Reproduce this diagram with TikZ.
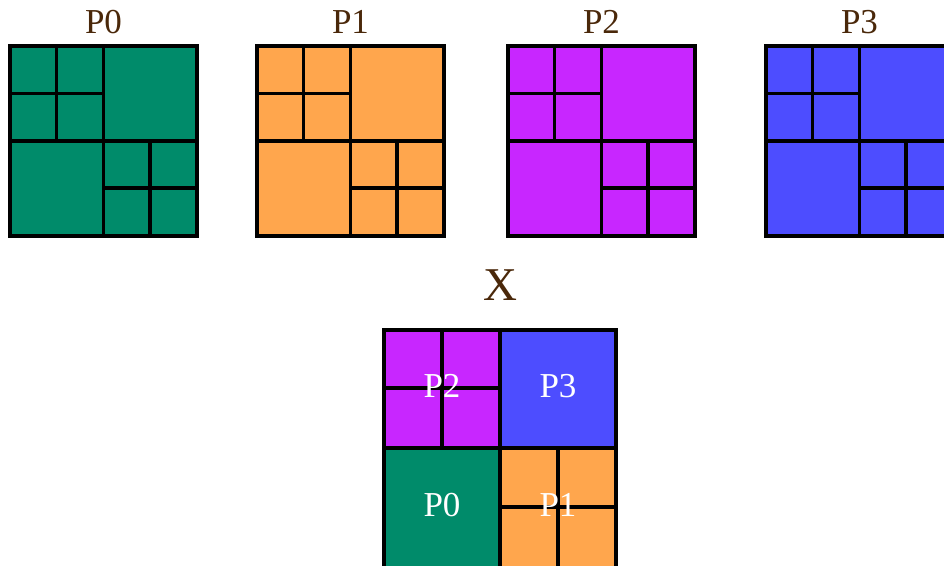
\documentclass[tikz,border=0pt]{standalone}
\usepackage{fontspec}
\setmainfont{Liberation Serif}
\definecolor{cgreen}{RGB}{0,139,106}
\definecolor{corange}{RGB}{255,166,77}
\definecolor{cpurple}{RGB}{200,38,255}
\definecolor{cblue}{RGB}{77,77,255}
\definecolor{cbrown}{RGB}{74,40,10}
\begin{document}
\begin{tikzpicture}[x=1pt,y=-1pt,
  grid/.style={line width=3.3pt,draw=black},
  title/.style={text=cbrown,font=\fontsize{35}{35}\selectfont,inner sep=0pt,anchor=base},
  inlabel/.style={text=white,font=\fontsize{35}{35}\selectfont,inner sep=0pt,anchor=base}]
\useasboundingbox (0,0) rectangle (944,565);
\clip (0,0) rectangle (944,565);
% four quadtree blocks
\foreach \x/\c/\t in {10/cgreen/P0,257/corange/P1,508/cpurple/P2,766/cblue/P3}{
  \fill[\c] (\x,46) rectangle (\x+187,236);
  \draw[grid] (\x+93.5,46) -- (\x+93.5,236);
  \draw[grid] (\x,141) -- (\x+187,141);
  \draw[grid] (\x+46.5,46) -- (\x+46.5,141);
  \draw[grid] (\x,93.5) -- (\x+93.5,93.5);
  \draw[grid] (\x+140,141) -- (\x+140,236);
  \draw[grid] (\x+93.5,188) -- (\x+187,188);
  \draw[grid] (\x,46) rectangle (\x+187,236);
  \node[title] (t\t) at (\x+93.5,33) {\t};
}
% X label
\node[text=cbrown,font=\fontsize{47}{47}\selectfont,inner sep=0pt,anchor=base] (xl) at (500,300) {X};
% combined block
\fill[cpurple] (384,330) rectangle (500,448);
\fill[cblue] (500,330) rectangle (616,448);
\fill[cgreen] (384,448) rectangle (500,570);
\fill[corange] (500,448) rectangle (616,570);
\draw[grid] (500,330) -- (500,570);
\draw[grid] (384,448) -- (616,448);
\draw[grid] (442,330) -- (442,448);
\draw[grid] (384,388) -- (500,388);
\draw[grid] (558,448) -- (558,570);
\draw[grid] (500,507) -- (616,507);
\draw[grid] (384,330) rectangle (616,570);
\node[inlabel] (q2) at (442,397) {P2};
\node[inlabel] (q3) at (558,397) {P3};
\node[inlabel] (q0) at (442,516) {P0};
\node[inlabel] (q1) at (558,516) {P1};
\end{tikzpicture}
\end{document}
